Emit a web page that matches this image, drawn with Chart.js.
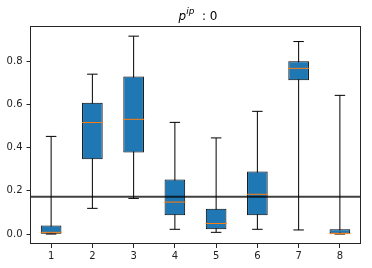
<!DOCTYPE html>
<html>
<head>
<meta charset="utf-8">
<script src="https://cdn.jsdelivr.net/npm/chart.js@4"></script>
<style>
  body { margin: 0; background: #fff; }
  #wrap { position: relative; width: 372px; height: 268px; }
  #titulo {
    position: absolute; left: 30px; width: 336px; top: 9px;
    text-align: center; font-family: "DejaVu Sans"; font-size: 12px;
    line-height: 14px; color: #000; white-space: pre;
  }
  #titulo i { font-style: italic; }
  #titulo .sup { position: relative; top: -6px; font-size: 9px; font-style: italic; }
</style>
</head>
<body>
<div id="wrap">
  <canvas id="grafico" width="372" height="268"></canvas>
  <div id="titulo"><i>p</i><span class="sup">ip</span>  : 0</div>
</div>
<script>
// datos
const categorias = ["1", "2", "3", "4", "5", "6", "7", "8"];
const bigoteMin = [0.0, 0.119, 0.165, 0.022, 0.008, 0.022, 0.019, 0.0];
const q1 = [0.002, 0.346, 0.378, 0.087, 0.022, 0.087, 0.712, 0.0];
const mediana = [0.008, 0.516, 0.531, 0.148, 0.049, 0.184, 0.767, 0.002];
const q3 = [0.040, 0.608, 0.729, 0.253, 0.117, 0.290, 0.800, 0.022];
const bigoteMax = [0.452, 0.740, 0.916, 0.517, 0.445, 0.568, 0.891, 0.642];
const lineaRef = 0.173;
const ticksY = [0.0, 0.2, 0.4, 0.6, 0.8];

const fuente = { family: "DejaVu Sans", size: 10 };

// marco de los ejes (4 lados)
const marco = {
  id: "marco",
  afterDatasetsDraw(chart) {
    const a = chart.chartArea;
    const ctx = chart.ctx;
    ctx.save();
    ctx.strokeStyle = "#262626";
    ctx.lineWidth = 1;
    ctx.strokeRect(a.left, Math.round(a.top) + 0.5, a.right - a.left, Math.round(a.bottom - a.top) - 1);
    ctx.restore();
  },
};

new Chart(document.getElementById("grafico"), {
  type: "bar",
  data: {
    labels: categorias,
    datasets: [
      {
        type: "line",
        xAxisID: "xLinea",
        data: [{ x: 0, y: lineaRef }, { x: 1, y: lineaRef }],
        borderColor: "rgba(0,0,0,0.75)",
        borderWidth: 2,
        pointRadius: 0,
        order: 0,
      },
      {
        type: "line",
        data: mediana,
        showLine: false,
        pointStyle: "line",
        pointRadius: 10.5,
        pointBorderWidth: 1,
        pointBorderColor: "#ff7f0e",
        order: 1,
      },
      {
        data: categorias.map((c, i) => [q1[i], q3[i]]),
        backgroundColor: "#1f77b4",
        borderColor: "#000",
        borderWidth: 1,
        borderSkipped: false,
        inflateAmount: 0,
        barPercentage: 0.5,
        categoryPercentage: 1,
        grouped: false,
        order: 2,
      },
      {
        type: "line",
        data: bigoteMax,
        showLine: false,
        pointStyle: "line",
        pointRadius: 5.25,
        pointBorderWidth: 1,
        pointBorderColor: "#000",
        order: 3,
      },
      {
        type: "line",
        data: bigoteMin,
        showLine: false,
        pointStyle: "line",
        pointRadius: 5.25,
        pointBorderWidth: 1,
        pointBorderColor: "#000",
        order: 3,
      },
      {
        data: categorias.map((c, i) => [bigoteMin[i], bigoteMax[i]]),
        backgroundColor: "#000",
        borderWidth: 0,
        inflateAmount: 0,
        barThickness: 1,
        grouped: false,
        order: 4,
      },
    ],
  },
  options: {
    responsive: false,
    animation: false,
    events: [],
    layout: { padding: { top: 26, right: 5.5, left: 0, bottom: 0 } },
    plugins: { legend: { display: false }, tooltip: { enabled: false }, title: { display: false } },
    scales: {
      x: {
        type: "category",
        grid: { drawOnChartArea: false, offset: false, tickLength: 4, color: "#262626" },
        border: { display: false },
        ticks: { font: fuente, color: "#222", padding: 2, maxRotation: 0 },
        afterFit: (s) => { s.height = 24; },
      },
      xLinea: {
        type: "linear",
        display: false,
        offset: false,
        bounds: "data",
        min: 0,
        max: 1,
      },
      y: {
        min: -0.046,
        max: 0.963,
        grid: { drawOnChartArea: false, tickLength: 4, color: "#262626" },
        border: { display: false },
        afterBuildTicks: (s) => { s.ticks = ticksY.map((v) => ({ value: v })); },
        ticks: { font: fuente, color: "#222", padding: 4, callback: (v) => v.toFixed(1) },
        afterFit: (s) => { s.width = 30.5; },
      },
    },
  },
  plugins: [marco],
});
</script>
</body>
</html>
